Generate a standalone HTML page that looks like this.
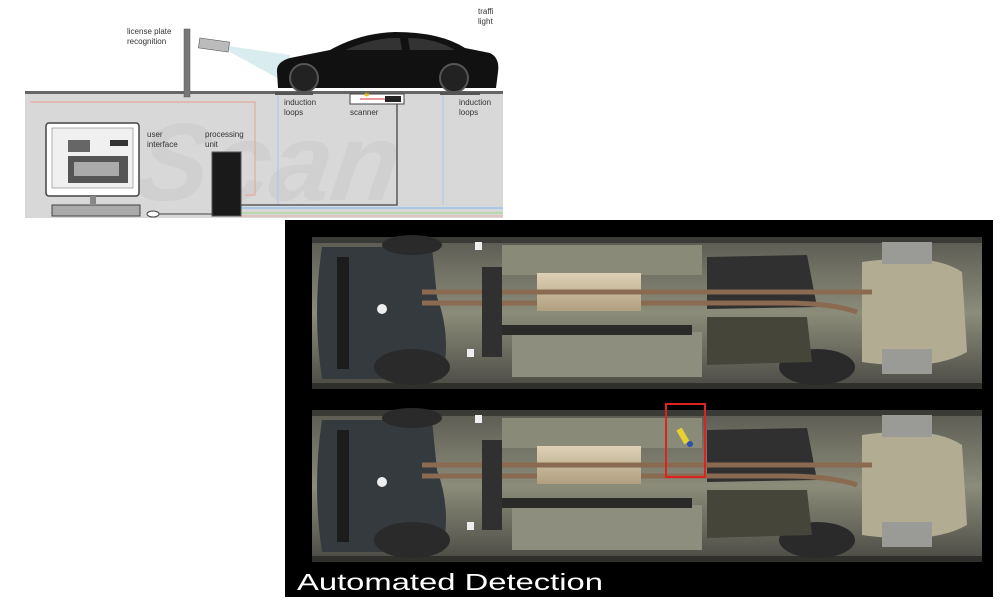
<!DOCTYPE html>
<html><head><meta charset="utf-8"><style>
html,body{margin:0;padding:0;background:#fff;width:1000px;height:604px;overflow:hidden}
svg{display:block}
text{font-family:"Liberation Sans",sans-serif}
</style></head><body>
<svg width="1000" height="604" viewBox="0 0 1000 604" xmlns="http://www.w3.org/2000/svg">
<defs>
<linearGradient id="ub" x1="0" y1="0" x2="0" y2="1">
<stop offset="0" stop-color="#5a5a52"/><stop offset="0.5" stop-color="#8c8c7a"/><stop offset="1" stop-color="#4a4a44"/></linearGradient>
<linearGradient id="muf" x1="0" y1="0" x2="0" y2="1">
<stop offset="0" stop-color="#ddd0b5"/><stop offset="1" stop-color="#b0a080"/></linearGradient>
<g id="under">
<rect x="0" y="0" width="670" height="152" fill="url(#ub)"/>
<rect x="0" y="0" width="670" height="6" fill="#3a3a36"/>
<rect x="0" y="146" width="670" height="6" fill="#2f2f2c"/>
<rect x="200" y="95" width="190" height="45" fill="#8e8e7e"/>
<rect x="190" y="8" width="200" height="30" fill="#8a8a78"/>
<path d="M10 10 Q0 76 10 142 L130 142 Q140 100 125 60 L120 10Z" fill="#353a3e"/>
<rect x="25" y="20" width="12" height="112" fill="#1c1c1c"/>
<ellipse cx="100" cy="130" rx="38" ry="18" fill="#2a2a2a"/>
<ellipse cx="505" cy="130" rx="38" ry="18" fill="#2a2a2a"/>
<ellipse cx="100" cy="8" rx="30" ry="10" fill="#2a2a2a"/>
<path d="M395 20 L495 18 L505 70 L395 72Z" fill="#303030"/>
<path d="M395 80 L495 80 L500 125 L395 128Z" fill="#45453a"/>
<path d="M550 25 Q620 15 650 35 L655 115 Q620 135 550 125Z" fill="#b2ad92"/>
<rect x="570" y="5" width="50" height="22" fill="#9a9a96"/>
<rect x="570" y="112" width="50" height="25" fill="#9a9a96"/>
<rect x="225" y="36" width="104" height="38" fill="url(#muf)"/>
<path d="M110 55 H560" stroke="#8a6a50" stroke-width="5" fill="none"/>
<path d="M110 66 H225 M329 66 H470 Q520 66 545 75" stroke="#8a6a50" stroke-width="5" fill="none"/>
<rect x="180" y="88" width="200" height="10" fill="#2a2a28"/>
<rect x="170" y="30" width="20" height="90" fill="#303030"/>
<rect x="163" y="5" width="7" height="8" fill="#eee"/>
<rect x="155" y="112" width="7" height="8" fill="#eee"/>
<circle cx="70" cy="72" r="5" fill="#eee"/>
</g>
</defs>

<!-- top diagram -->
<rect x="25" y="93" width="478" height="125" fill="#d8d8d8"/>
<rect x="25" y="91" width="478" height="3" fill="#666"/>
<text x="160" y="200" font-size="110" font-weight="bold" font-style="italic" fill="#d0d0d0" transform="skewX(-8)">Scan</text>
<path d="M30 102 H255 V195 H245" stroke="#e8a8a0" stroke-width="1.2" fill="none"/>
<line x1="278" y1="95" x2="278" y2="205" stroke="#a8c8e8" stroke-width="1"/>
<line x1="443" y1="95" x2="443" y2="205" stroke="#a8c8e8" stroke-width="1"/>
<path d="M240 205 H397 V100" stroke="#444" stroke-width="1.3" fill="none"/>
<line x1="240" y1="208" x2="503" y2="208" stroke="#a8c8e8" stroke-width="2"/>
<line x1="240" y1="213" x2="503" y2="213" stroke="#b8d8a8" stroke-width="2"/>
<line x1="240" y1="216" x2="503" y2="216" stroke="#e8b0a8" stroke-width="1"/>
<!-- pole + camera -->
<rect x="184" y="29" width="6" height="68" fill="#777" stroke="#555" stroke-width="0.5"/>
<polygon points="228,46 290,55 290,85 230,52" fill="#cfe9ee" opacity="0.8"/>
<rect x="199" y="40" width="30" height="10" fill="#bbb" stroke="#555" stroke-width="0.6" transform="rotate(8 214 45)"/>
<text x="127" y="34" font-size="8" fill="#333">license plate</text>
<text x="127" y="44" font-size="8" fill="#333">recognition</text>
<text x="478" y="14" font-size="8" fill="#333">traffi</text>
<text x="478" y="24" font-size="8" fill="#333">light</text>
<!-- car -->
<path d="M277 72 Q276 62 290 58 L330 50 Q360 33 395 32 Q440 32 465 48 L490 53 Q500 58 498 72 L496 88 L278 88Z" fill="#111"/>
<path d="M345 50 Q375 37 400 38 L402 50Z M408 38 Q435 38 455 50 L410 50Z" fill="#333"/>
<circle cx="304" cy="78" r="14" fill="#222" stroke="#555" stroke-width="2"/>
<circle cx="454" cy="78" r="14" fill="#222" stroke="#555" stroke-width="2"/>
<rect x="275" y="92" width="38" height="3" fill="#555"/>
<rect x="440" y="92" width="40" height="3" fill="#555"/>
<rect x="350" y="94" width="54" height="10" fill="#fff" stroke="#444" stroke-width="1"/>
<rect x="385" y="96" width="16" height="6" fill="#222"/>
<line x1="360" y1="99" x2="385" y2="99" stroke="#d33" stroke-width="1"/>
<text x="363" y="98" font-size="9" fill="#e8b800">✶</text>
<text x="284" y="105" font-size="8" fill="#333">induction</text>
<text x="284" y="115" font-size="8" fill="#333">loops</text>
<text x="350" y="115" font-size="8" fill="#333">scanner</text>
<text x="459" y="105" font-size="8" fill="#333">induction</text>
<text x="459" y="115" font-size="8" fill="#333">loops</text>
<!-- monitor -->
<rect x="46" y="123" width="93" height="73" rx="3" fill="#fff" stroke="#444" stroke-width="1.5"/>
<rect x="52" y="128" width="81" height="60" fill="#f0f0f0" stroke="#666" stroke-width="0.5"/>
<rect x="68" y="140" width="22" height="12" fill="#666"/>
<rect x="68" y="156" width="60" height="27" fill="#555"/>
<rect x="74" y="162" width="45" height="14" fill="#aaa"/>
<rect x="110" y="140" width="18" height="6" fill="#333"/>
<rect x="90" y="196" width="6" height="8" fill="#888"/>
<rect x="52" y="205" width="88" height="11" fill="#aaa" stroke="#444" stroke-width="1"/>
<ellipse cx="153" cy="214" rx="6" ry="3" fill="#fff" stroke="#444"/>
<line x1="159" y1="214" x2="212" y2="214" stroke="#444"/>
<text x="147" y="137" font-size="8" fill="#333">user</text>
<text x="147" y="147" font-size="8" fill="#333">interface</text>
<text x="205" y="137" font-size="8" fill="#333">processing</text>
<text x="205" y="147" font-size="8" fill="#333">unit</text>
<rect x="212" y="152" width="29" height="64" fill="#1a1a1a" stroke="#555"/>
<!-- bottom panel -->
<rect x="285" y="220" width="708" height="377" fill="#000"/>
<use href="#under" x="312" y="237"/>
<use href="#under" x="312" y="410"/>
<rect x="666" y="404" width="39" height="73" fill="none" stroke="#d22" stroke-width="2"/>
<rect x="680" y="428" width="6" height="16" fill="#e8d030" transform="rotate(-30 683 436)"/>
<circle cx="690" cy="444" r="3" fill="#2a4fb0"/>
<text x="297" y="590" font-size="23" fill="#fff" textLength="306" lengthAdjust="spacingAndGlyphs" font-weight="300">Automated Detection</text>
</svg>
</body></html>
